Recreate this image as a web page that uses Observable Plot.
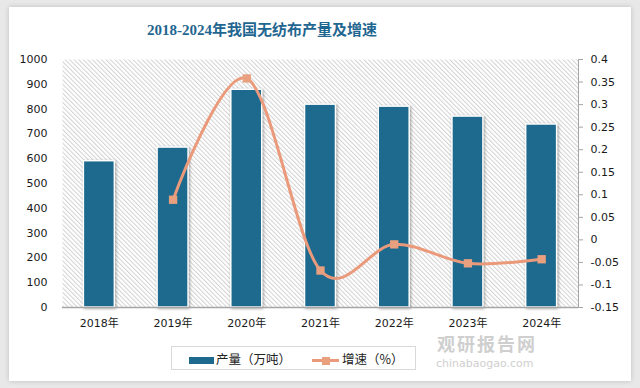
<!DOCTYPE html>
<html><head><meta charset="utf-8">
<script src="https://cdn.jsdelivr.net/npm/d3@7"></script>
<script src="https://cdn.jsdelivr.net/npm/@observablehq/plot@0.6"></script>
<style>
body{margin:0;width:640px;height:388px;background:#e8e8e8;position:relative;overflow:hidden;font-family:"DejaVu Sans","Noto Sans CJK SC",sans-serif;}
#card{position:absolute;left:9px;top:7px;width:622px;height:374px;background:#fff;box-shadow:0 0 5px rgba(0,0,0,0.18);}
#title{position:absolute;left:0;top:20px;width:524px;text-align:center;font-family:"Liberation Serif","Noto Sans CJK SC",serif;font-weight:bold;font-size:15px;color:#1f6690;line-height:20px;}
#chart{position:absolute;left:0;top:45px;}
#legend{position:absolute;left:171px;top:346px;width:245px;height:24px;border:1px solid #d9d9d9;box-sizing:border-box;font-family:"Noto Sans CJK SC",sans-serif;font-size:12.5px;color:#222;}
.item{position:absolute;top:0;height:24px;line-height:23px;white-space:nowrap;}
.sw{display:inline-block;vertical-align:middle;position:relative;}
#wm1{position:absolute;left:437px;top:334px;font-family:"Noto Sans CJK SC",sans-serif;font-weight:bold;font-size:18px;color:#cfcfcf;letter-spacing:2px;line-height:18px;}
#wm2{position:absolute;left:436px;top:358px;font-family:"DejaVu Sans",sans-serif;font-size:11px;color:#cfcfcf;line-height:12px;}
g[aria-label="bar"] rect{filter:drop-shadow(1px 1px 1.5px rgba(0,0,0,0.35));}
</style></head>
<body>
<div id="card"></div>
<div id="title">2018-2024年我国无纺布产量及增速</div>
<div id="chart"></div>
<div id="wm1">观研报告网</div>
<div id="wm2">chinabaogao.com</div>
<div id="legend">
  <div class="item" style="left:17px"><span class="sw" style="width:25px;height:7px;background:#1d6a8e;"></span><span style="margin-left:2px">产量（万吨）</span></div>
  <div class="item" style="left:140px"><span class="sw" style="width:27px;height:3px;background:#ea9a7b;"><span style="position:absolute;left:10px;top:-2.5px;width:8px;height:8px;background:#e9a07f;"></span></span><span style="margin-left:3px">增速（%）</span></div>
</div>
<script>
const years = ["2018年","2019年","2020年","2021年","2022年","2023年","2024年"];
const output = [590, 645, 878, 818, 810, 770, 738];
const growth = [null, 0.089, 0.358, -0.068, -0.010, -0.052, -0.043];
const leftTicks = [0,100,200,300,400,500,600,700,800,900,1000];
const rightTicks = [-0.15,-0.1,-0.05,0,0.05,0.1,0.15,0.2,0.25,0.3,0.35,0.4];

const rows = years.map((y,i)=>({year:y, output:output[i], growth:growth[i]}));
const lineRows = rows.filter(d=>d.growth!==null);
const y2 = d3.scaleLinear([-0.15,0.4],[0,1000]);

const chart = Plot.plot({
  width:640, height:295,
  marginTop:14, marginBottom:33, marginLeft:62, marginRight:62,
  style:{fontFamily:"DejaVu Sans, Noto Sans CJK SC, sans-serif", fontSize:"11px", color:"#1a1a1a", background:"transparent", overflow:"visible"},
  x:{domain:years, paddingInner:0.58, paddingOuter:0.29, round:false, label:null},
  y:{domain:[0,1000], label:null},
  marks:[
    Plot.frame({fill:"url(#hatch)", stroke:"none"}),
    Plot.barY(rows, {x:"year", y:"output", fill:"#1d6a8e", stroke:"white", strokeWidth:1.5}),
    Plot.ruleY([0], {stroke:"#a6a6a6", strokeWidth:1.5}),
    Plot.frame({anchor:"right", stroke:"#a6a6a6"}),
    Plot.axisX({tickSize:0, tickPadding:12, label:null, fontSize:11}),
    Plot.axisY(leftTicks, {anchor:"left", tickSize:0, tickPadding:15, label:null, fontSize:11, tickFormat:d=>String(d)}),
    Plot.axisY(rightTicks, {anchor:"right", y:y2, tickSize:4, stroke:"#a6a6a6", tickPadding:8, label:null, fontSize:11, tickFormat:d=>String(+d.toFixed(2))}),
    Plot.line(lineRows, {x:"year", y:d=>y2(d.growth), stroke:"#ea9a7b", strokeWidth:3, curve:"cardinal", tension:0}),
    Plot.dot(lineRows, {x:"year", y:d=>y2(d.growth), symbol:"square", r:4.7, fill:"#e9a07f", stroke:"none"})
  ]
});
const defs = d3.select(chart).insert("defs",":first-child");
const p = defs.append("pattern").attr("id","hatch").attr("patternUnits","userSpaceOnUse")
  .attr("width",3.2).attr("height",10).attr("patternTransform","rotate(-45)");
p.append("rect").attr("width",3.2).attr("height",10).attr("fill","#ffffff");
p.append("rect").attr("width",1).attr("height",10).attr("fill","#d2d2d2");
document.getElementById("chart").appendChild(chart);
</script>
</body></html>
